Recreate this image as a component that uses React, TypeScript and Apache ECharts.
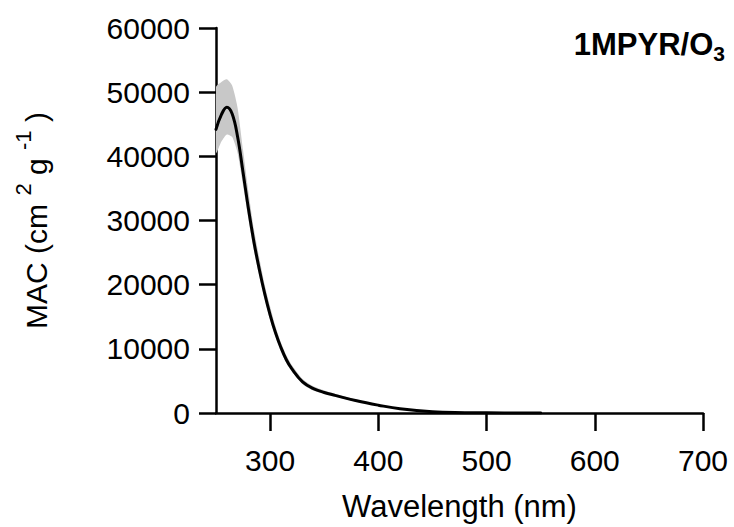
import React, { useEffect, useRef } from "react";
import * as echarts from "echarts";

const wavelength = [250, 255, 260, 265, 270, 275, 280, 285, 290, 295, 300, 305, 310, 315, 320, 330, 340, 350, 360, 380, 400, 420, 450, 480, 500, 550];
const mac = [44200, 46500, 47650, 46600, 43000, 37500, 31800, 26700, 22400, 18600, 15300, 12500, 10200, 8300, 6900, 4850, 3800, 3200, 2750, 1900, 1220, 650, 180, 50, 20, 0];
const macUpper = [50800, 51600, 52000, 51000, 47500, 41000, 34500, 28700, 24200, 20000, 16600, 13500, 11000, 9000, 7500, 5300, 4150, 3500, 3000, 2050, 1320, 720, 220, 70, 30, 0];
const macLower = [40500, 42300, 43400, 43000, 40500, 35500, 30200, 25300, 21300, 17700, 14500, 11900, 9600, 7800, 6500, 4500, 3500, 2950, 2550, 1750, 1120, 580, 140, 30, 10, 0];
const xTicks = [300, 400, 500, 600, 700];
const yTicks = [0, 10000, 20000, 30000, 40000, 50000, 60000];

const FONT = "'Liberation Sans', Arial, sans-serif";

export default function App() {
  const ref = useRef<HTMLDivElement>(null);
  useEffect(() => {
    if (!ref.current) return;
    const chart = echarts.init(ref.current, null, { renderer: "svg" });
    const bandData = wavelength.map((w, i) => [w, macLower[i], macUpper[i]]);
    const lineData = wavelength.map((w, i) => [w, mac[i]]);
    chart.setOption({
      animation: false,
      backgroundColor: "#ffffff",
      textStyle: { fontFamily: FONT },
      title: {
        text: "{b|1MPYR/O}{s|3}",
        right: 4,
        top: 20,
        textStyle: {
          rich: {
            b: { fontFamily: FONT, fontWeight: "bold", fontSize: 31, color: "#000" },
            s: { fontFamily: FONT, fontWeight: "bold", fontSize: 21, color: "#000", padding: [18, 0, 0, 0] },
          },
        },
      },
      grid: { left: 216, right: 31, top: 28, bottom: 112 },
      xAxis: {
        type: "value",
        min: 250,
        max: 700,
        name: "Wavelength (nm)",
        nameLocation: "middle",
        nameGap: 78,
        nameTextStyle: { fontFamily: FONT, fontSize: 31, color: "#000" },
        axisLine: { show: true, onZero: false, lineStyle: { color: "#000", width: 2.5 } },
        axisTick: { show: true, inside: false, length: 18, customValues: xTicks, lineStyle: { color: "#000", width: 2.5 } },
        axisLabel: { customValues: xTicks, margin: 32, fontFamily: FONT, fontSize: 30, color: "#000" },
        splitLine: { show: false },
      },
      yAxis: {
        type: "value",
        min: 0,
        max: 60000,
        interval: 10000,
        name: "MAC (cm {sup|2} g {sup|-1} )",
        nameLocation: "middle",
        nameRotate: 90,
        nameGap: 156,
        nameTextStyle: {
          fontFamily: FONT,
          fontSize: 30,
          color: "#000",
          rich: {
            sup: { fontFamily: FONT, fontSize: 22, color: "#000", padding: [0, 0, 26, 0] },
          },
        },
        axisLine: { show: true, lineStyle: { color: "#000", width: 2.5 } },
        axisTick: { show: true, inside: false, length: 17, customValues: yTicks, lineStyle: { color: "#000", width: 2.5 } },
        axisLabel: { margin: 26, fontFamily: FONT, fontSize: 30, color: "#000", formatter: (v: number) => String(v) },
        splitLine: { show: false },
      },
      series: [
        {
          type: "custom",
          data: bandData,
          clip: true,
          silent: true,
          z: 1,
          encode: { x: 0, y: [1, 2] },
          renderItem: (params: any, api: any) => {
            if (params.dataIndex !== 0) return null;
            const pts: number[][] = [];
            for (let i = 0; i < wavelength.length; i++) pts.push(api.coord([wavelength[i], macUpper[i]]));
            for (let i = wavelength.length - 1; i >= 0; i--) pts.push(api.coord([wavelength[i], macLower[i]]));
            return {
              type: "polygon",
              shape: { points: pts, smooth: 0.2 },
              style: { fill: "#c8c8c8", stroke: "none" },
            };
          },
        },
        {
          type: "line",
          data: lineData,
          symbol: "none",
          smooth: 0.4,
          lineStyle: { color: "#000", width: 3, cap: "round", join: "round" },
          z: 3,
        },
      ],
    });
    return () => chart.dispose();
  }, []);
  return <div ref={ref} style={{ width: 734, height: 527, position: "absolute", left: 0, top: 0 }} />;
}
